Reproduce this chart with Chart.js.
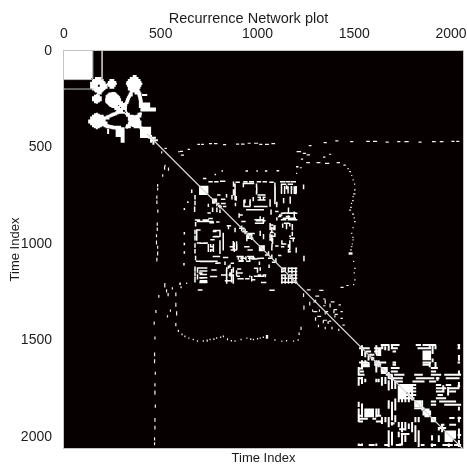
<!DOCTYPE html>
<html>
<head>
<meta charset="utf-8">
<title>Recurrence Network plot</title>
<script src="https://cdn.jsdelivr.net/npm/chart.js@4"></script>
<style>
  html, body { margin: 0; background: #fff; }
  #wrap { width: 467px; height: 466px; }
</style>
</head>
<body>
<div id="wrap"><canvas id="chart"></canvas></div>
<script>
const tickValues = [0, 500, 1000, 1500, 2000];

// solid patches of the matrix: [from i, to i, from j, to j]
const blocks = [
  [0, 143, 0, 143], [403, 445, 398, 442], [703, 741, 703, 737], [1012, 1033, 1012, 1034],
  [770, 786, 770, 784], [1642, 1668, 1643, 1661], [1858, 1892, 1868, 1890], [1978, 2021, 1972, 2006],
  [1815, 1840, 1816, 1842], [1737, 1754, 1730, 1795], [1901, 1918, 1902, 1918],
  [412, 440, 272, 288], [1858, 1892, 1557, 1600], [1548, 1575, 1626, 1640]
];

// faint single lines beside the first patch: [j, from i, to i]
const faintLines = [[197, 0, 150], [148, 0, 145]];

// recurrent runs, one per line: [j, from i, to i]; the matrix is mirrored in the code below
const firstCluster = [
  [140, 165, 190], [150, 155, 200], [160, 150, 175], [160, 185, 205], [170, 145, 210], [180, 150, 170],
  [180, 195, 212], [190, 150, 212], [200, 155, 205], [210, 165, 195], [220, 175, 190],
  [150, 240, 255], [160, 232, 265], [170, 228, 268], [180, 232, 262], [190, 240, 255],
  [130, 360, 370], [140, 345, 380], [150, 335, 390], [160, 328, 395], [170, 325, 355], [170, 365, 400],
  [180, 330, 395], [190, 335, 390], [200, 335, 345], [200, 355, 385], [210, 345, 390], [220, 340, 350],
  [220, 370, 395], [230, 335, 350], [230, 385, 395], [240, 330, 340], [240, 388, 398], [250, 325, 335],
  [250, 390, 400], [260, 322, 332], [260, 392, 402], [270, 318, 328], [270, 392, 402], [280, 312, 322],
  [280, 392, 402], [290, 305, 318], [290, 392, 402], [300, 298, 310], [228, 408, 425],
  [298, 400, 470], [308, 400, 470],
  [220, 235, 265], [230, 225, 275], [240, 220, 285], [250, 218, 288], [260, 218, 285], [270, 225, 280],
  [280, 235, 275], [290, 250, 285], [300, 265, 295], [310, 275, 300], [320, 285, 310],
  [325, 320, 335], [325, 385, 398], [335, 328, 345], [335, 375, 395], [345, 335, 385], [355, 335, 388],
  [365, 338, 395], [375, 335, 395], [385, 335, 352], [385, 370, 390], [395, 322, 340], [395, 380, 400],
  [450, 440, 470], [462, 455, 480]
];

const middleCluster = [
  [677, 750, 765], [677, 780, 795], [675, 810, 830], [680, 890, 905], [677, 930, 945], [677, 960, 978],
  [677, 1000, 1015], [677, 1030, 1045], [680, 1065, 1080], [677, 1120, 1140], [677, 1150, 1165], [677, 1175, 1195],
  [690, 1130, 1145], [690, 1160, 1180], [1124, 703, 737], [1140, 703, 737], [1158, 705, 735], [1175, 703, 737],
  [1190, 705, 737], [1200, 703, 735], [746, 1004, 1038], [772, 1004, 1038], [758, 1004, 1012], [758, 1030, 1038],
  [746, 795, 805], [768, 815, 830], [790, 790, 800], [790, 815, 832], [806, 800, 812], [806, 825, 835],
  [884, 690, 770], [1090, 685, 790], [886, 790, 800], [935, 772, 785], [961, 780, 792], [978, 760, 775],
  [995, 690, 705], [995, 725, 740], [840, 745, 755], [868, 750, 765], [890, 755, 772], [1065, 772, 785],
  [1099, 790, 806], [841, 1124, 1140], [841, 1155, 1175], [841, 1185, 1202], [858, 1110, 1120], [858, 1150, 1165],
  [875, 1124, 1145], [875, 1165, 1202], [832, 1095, 1105], [850, 1115, 1125], [880, 995, 1015], [880, 1025, 1038],
  [893, 1005, 1025], [884, 920, 935], [901, 1065, 1078], [920, 1072, 1085], [940, 1068, 1080], [960, 1072, 1088],
  [979, 1065, 1078], [1065, 895, 925], [1065, 950, 975], [1090, 905, 925], [1090, 945, 960], [1167, 895, 905],
  [1167, 985, 1030], [918, 908, 930], [936, 925, 945], [953, 945, 968], [970, 950, 975], [945, 958, 982],
  [1014, 860, 880], [1031, 865, 888], [1014, 935, 955], [1031, 952, 972], [1070, 825, 845], [1074, 915, 935],
  [1074, 955, 985], [1074, 1015, 1030], [1085, 908, 925], [1078, 972, 995], [1057, 1042, 1058], [1074, 1058, 1072],
  [1095, 1078, 1092], [1126, 1125, 1145], [1126, 1165, 1202], [1143, 1125, 1140], [1143, 1160, 1202], [1160, 1125, 1145],
  [1160, 1165, 1202], [1178, 1125, 1150], [1178, 1165, 1202], [1198, 1125, 1202], [1124, 690, 702], [1150, 700, 712],
  [1176, 705, 718], [1198, 705, 738], [1135, 765, 785], [1160, 815, 835], [1160, 855, 875], [1190, 835, 865],
  [1130, 898, 912], [1180, 900, 925], [1180, 940, 955], [1160, 1005, 1015], [1160, 1030, 1042], [1200, 1022, 1042],
  [1014, 1125, 1135], [1040, 1167, 1169], [960, 1167, 1169], [1010, 1095, 1105], [1100, 785, 795], [1100, 865, 875],
  [622, 818, 820], [622, 942, 947], [622, 998, 1002], [622, 1042, 1047], [620, 1102, 1108], [600, 1203, 1208],
  [640, 782, 784], [660, 722, 732], [1238, 695, 712], [1240, 1065, 1085],
  [876, 680, 700], [876, 720, 745], [884, 705, 745], [927, 688, 702], [930, 775, 803], [962, 772, 800], [996, 705, 735],
  [1065, 775, 803], [1091, 705, 770], [1075, 1000, 1010], [1169, 758, 788], [1014, 758, 770], [1031, 758, 770],
  [686, 927, 979], [806, 930, 960], [806, 985, 1048], [823, 945, 1030], [875, 988, 1031], [892, 990, 1030],
  [840, 1134, 1195], [866, 1134, 1195], [1150, 900, 920], [1185, 975, 985], [1126, 985, 1000], [892, 1140, 1160],
  [970, 1170, 1190], [1060, 1110, 1120], [1000, 1130, 1145], [850, 905, 920], [905, 845, 860]
];

const edgeDots = [
  [484, 692, 700], [484, 712, 720], [480, 752, 762], [480, 778, 790], [485, 825, 835], [482, 892, 902], [482, 918, 930],
  [478, 952, 962], [478, 985, 1000], [484, 1012, 1022], [484, 1042, 1056], [480, 1075, 1088],
  [520, 602, 612], [540, 607, 617], [510, 642, 648], [522, 592, 596], [505, 522, 528],
  [578, 1255, 1268], [578, 1308, 1322], [582, 1352, 1368], [578, 1412, 1423], [591, 1447, 1453],
  [610, 1467, 1470], [625, 1477, 1480], [645, 1487, 1488], [668, 1494, 1496], [690, 1502, 1503], [720, 1502, 1504],
  [740, 1498, 1503], [755, 1494, 1496], [775, 1492, 1494], [789, 1486, 1488], [810, 1482, 1484], [824, 1477, 1480],
  [845, 1492, 1496], [865, 1500, 1502], [884, 1502, 1504], [915, 1494, 1496], [945, 1487, 1488], [965, 1492, 1494],
  [979, 1494, 1496], [1000, 1490, 1492], [1014, 1487, 1488], [1030, 1482, 1484], [1046, 1474, 1488], [1052, 1474, 1488],
  [1090, 1497, 1498], [1126, 1503, 1504], [1150, 1500, 1502], [1186, 1503, 1504], [1210, 1497, 1498],
  [521, 1205, 1222], [530, 1238, 1248], [538, 1257, 1268], [550, 1342, 1348], [535, 1372, 1378], [560, 1227, 1233],
  [634, 1202, 1204], [605, 1222, 1226],
  [470, 1482, 1492], [468, 1565, 1578], [468, 1600, 1615], [472, 1665, 1675], [470, 1725, 1735], [470, 1762, 1778],
  [472, 1835, 1845], [470, 1905, 1918], [470, 1945, 1958], [468, 2005, 2015], [468, 2030, 2040], [466, 1405, 1415],
  [475, 1345, 1355], [490, 1268, 1276], [1238, 1258, 1272], [1240, 1322, 1338], [1225, 1432, 1442], [1215, 1462, 1468],
  [1285, 1342, 1348], [1300, 1382, 1395], [1315, 1422, 1428], [1320, 1342, 1348], [1340, 1398, 1408], [1350, 1432, 1438],
  [1350, 1352, 1362], [1385, 1432, 1438], [1400, 1372, 1378], [1420, 1442, 1448], [1270, 1302, 1316], [1300, 1292, 1298],
  [1350, 1292, 1306], [1375, 1312, 1326], [1395, 1342, 1356], [1365, 1402, 1412]
];

const lastCluster = [
  [1523, 1642, 1677], [1523, 1694, 1729], [1523, 1823, 1840], [1523, 1858, 1918],
  [1540, 1548, 1575], [1540, 1608, 1642], [1540, 1694, 1720], [1540, 1832, 1849], [1540, 1858, 1892],
  [1557, 1565, 1582], [1557, 1608, 1634], [1557, 1703, 1711],
  [1574, 1582, 1599], [1574, 1617, 1634], [1592, 1590, 1599], [1614, 1530, 1565], [1614, 1608, 1660],
  [1614, 1703, 1711], [1614, 1858, 1892], [1626, 1608, 1634], [1626, 1703, 1711], [1626, 1858, 1884],
  [1643, 1694, 1729], [1643, 1901, 1927], [1661, 1694, 1720], [1661, 1901, 1918],
  [1678, 1668, 1694], [1678, 1711, 1754], [1678, 1815, 1849], [1678, 1901, 1944], [1678, 1970, 1996],
  [1678, 2004, 2047], [1695, 1685, 1703], [1695, 1711, 1746], [1695, 1823, 1840], [1695, 1849, 1909],
  [1695, 1927, 1935], [1695, 1978, 2039], [1712, 1711, 1746], [1712, 1806, 1858], [1712, 1892, 1918],
  [1730, 1737, 1815], [1730, 1927, 1944], [1730, 1978, 1996], [1747, 1737, 1754], [1747, 1780, 1815],
  [1747, 1927, 1970], [1747, 1987, 2039], [1764, 1737, 1815], [1764, 1927, 1961], [1764, 1996, 2021],
  [1782, 1737, 1815], [1782, 1935, 1953], [1799, 1737, 1806], [1799, 1927, 1970],
  [1816, 1901, 1918], [1816, 1944, 2021], [1833, 1815, 1840], [1833, 1901, 1918], [1833, 1970, 2047],
  [1851, 1815, 1858], [1902, 1996, 2013], [1937, 1953, 1961], [1937, 1996, 2021],
  [1954, 1944, 1970], [2041, 1961, 2004], [2041, 2021, 2047], [1989, 2039, 2047],
  [1523, 2039, 2042], [1540, 2039, 2042], [1614, 2039, 2042], [1737, 2039, 2042], [1902, 2039, 2047],
  [1540, 1530, 1540], [1645, 1530, 1540], [1660, 1535, 1545], [1678, 1530, 1548], [1695, 1530, 1540],
  [1905, 1530, 1565], [1890, 1530, 1540], [1920, 1530, 1540], [2041, 1530, 1535], [2041, 1580, 1600],
  [1905, 1599, 1608], [1890, 1617, 1634], [1920, 1617, 1634], [2041, 1660, 1677], [1930, 1694, 1703],
  [2041, 1720, 1729], [2041, 1849, 1858], [2041, 1900, 1918], [1960, 1737, 1754], [1985, 1746, 1780]
];

const diagonal = [430, 2058];

function expandBlock([a, b, c, d]) {
  const rows = [];
  for (let j = c; j <= d; j += 8) rows.push([j, a, b]);
  return rows;
}

// a horizontal run and its mirror image; nulls break the line between runs
function mirrored(runs) {
  const pts = [];
  runs.forEach(([j, a, b]) => {
    pts.push({ x: a, y: j }, { x: b, y: j }, { x: null, y: null });
    pts.push({ x: j, y: a }, { x: j, y: b }, { x: null, y: null });
  });
  return pts;
}

const font = '"Liberation Sans", Arial, sans-serif';
const labelFont = { family: font, size: 14 };

const lineSet = (label, runs, color, width) => ({
  label,
  data: mirrored(runs),
  showLine: true,
  spanGaps: false,
  borderColor: color,
  borderWidth: width,
  borderCapStyle: 'square',
  pointRadius: 0
});

const plotFrame = {
  id: 'plotFrame',
  beforeDatasetsDraw(chart) {
    const { ctx, chartArea: a } = chart;
    ctx.save();
    ctx.fillStyle = '#070000';
    ctx.fillRect(a.left, a.top, a.width, a.height);
    ctx.restore();
  },
  afterDraw(chart) {
    const { ctx, chartArea: a } = chart;
    ctx.save();
    ctx.strokeStyle = '#c4c4c4';
    ctx.strokeRect(a.left - 0.5, a.top - 0.5, a.width + 1, a.height + 1);
    // the title sits a little left of the plot centre in the original
    ctx.fillStyle = '#1c1c1c';
    ctx.font = '14.5px ' + font;
    ctx.textAlign = 'center';
    ctx.textBaseline = 'middle';
    ctx.fillText('Recurrence Network plot', 248.5, 19);
    ctx.restore();
  }
};

new Chart(document.getElementById('chart'), {
  type: 'scatter',
  data: {
    datasets: [
      {
        label: 'diagonal',
        data: diagonal.map((t) => ({ x: t, y: t })),
        showLine: true,
        borderColor: '#d8d8d8',
        borderWidth: 1.2,
        pointRadius: 0
      },
      lineSet('faint', faintLines, '#bdbdbd', 1),
      lineSet('edges', edgeDots, '#f4f4f4', 1.2),
      lineSet('middle', middleCluster, '#ffffff', 1.5),
      lineSet('dense', [...firstCluster, ...lastCluster, ...blocks.flatMap(expandBlock)], '#ffffff', 2)
    ]
  },
  plugins: [plotFrame],
  options: {
    responsive: true,
    maintainAspectRatio: false,
    animation: false,
    layout: { padding: { left: 0, right: 4, top: 0, bottom: 0 } },
    plugins: { legend: { display: false }, tooltip: { enabled: false } },
    scales: {
      x: {
        type: 'linear',
        position: 'top',
        min: 0,
        max: 2062,
        afterBuildTicks: (axis) => { axis.ticks = tickValues.map((value) => ({ value })); },
        afterFit: (axis) => { axis.height = 51; },
        grid: { display: false },
        border: { display: false },
        ticks: { color: '#1c1c1c', font: labelFont, padding: 0, maxRotation: 0, callback: (v) => String(v) }
      },
      x2: {
        type: 'linear',
        position: 'bottom',
        min: 0,
        max: 2062,
        afterFit: (axis) => { axis.height = 18; },
        grid: { display: false },
        border: { display: false },
        ticks: { display: false },
        title: {
          display: true,
          text: 'Time Index',
          color: '#1c1c1c',
          font: { family: font, size: 13 },
          padding: { top: 2, bottom: 0 }
        }
      },
      y: {
        type: 'linear',
        reverse: true,
        min: 0,
        max: 2057,
        afterBuildTicks: (axis) => { axis.ticks = tickValues.map((value) => ({ value })); },
        afterFit: (axis) => { axis.width = 64; },
        grid: { display: false },
        border: { display: false },
        ticks: { color: '#1c1c1c', font: labelFont, padding: 4, callback: (v) => String(v) },
        title: {
          display: true,
          text: 'Time Index',
          color: '#1c1c1c',
          font: { family: font, size: 13 },
          padding: { top: 8, bottom: 0 }
        }
      }
    }
  }
});
</script>
</body>
</html>
